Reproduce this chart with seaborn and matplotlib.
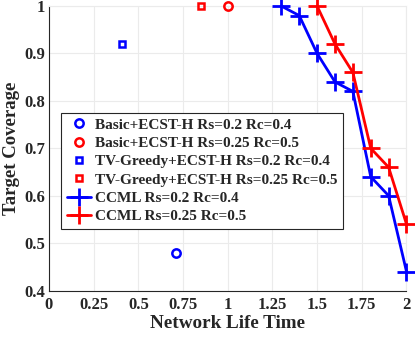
import matplotlib
matplotlib.use("Agg")
import matplotlib.pyplot as plt
import seaborn as sns

sns.set_theme(style="white")
plt.rcParams['font.family'] = ['Liberation Serif', 'DejaVu Serif']
plt.rcParams['font.weight'] = 'bold'

basic_x_02 = [0.71]; basic_y_02 = [0.48]
basic_x_025 = [1.0]; basic_y_025 = [1.0]
tv_x_02 = [0.41]; tv_y_02 = [0.92]
tv_x_025 = [0.85]; tv_y_025 = [1.0]
ccml_x_02 = [1.3, 1.4, 1.5, 1.6, 1.7, 1.8, 1.9, 2.0]
ccml_y_02 = [1.0, 0.98, 0.90, 0.84, 0.82, 0.64, 0.60, 0.44]
ccml_x_025 = [1.5, 1.6, 1.7, 1.8, 1.9, 2.0]
ccml_y_025 = [1.0, 0.92, 0.86, 0.70, 0.66, 0.54]
labels = ["Basic+ECST-H Rs=0.2 Rc=0.4", "Basic+ECST-H Rs=0.25 Rc=0.5",
          "TV-Greedy+ECST-H Rs=0.2 Rc=0.4", "TV-Greedy+ECST-H Rs=0.25 Rc=0.5",
          "CCML Rs=0.2 Rc=0.4", "CCML Rs=0.25 Rc=0.5"]
xticks = [0, 0.25, 0.5, 0.75, 1, 1.25, 1.5, 1.75, 2]
xticklabels = ["0", "0.25", "0.5", "0.75", "1", "1.25", "1.5", "1.75", "2"]
yticks = [0.4, 0.5, 0.6, 0.7, 0.8, 0.9, 1.0]
yticklabels = ["0.4", "0.5", "0.6", "0.7", "0.8", "0.9", "1"]

BLUE = "#0000ff"
RED = "#ff0000"

fig = plt.figure(figsize=(4.15, 3.38), dpi=100)
ax = fig.add_axes([0.118, 0.1405, 0.8615, 0.8415])

common = dict(ax=ax, clip_on=False, zorder=3)
sns.lineplot(x=basic_x_02, y=basic_y_02, marker='o', linestyle='', mfc='none',
             mec=BLUE, ms=6, mew=1.8, label=labels[0], **common)
sns.lineplot(x=basic_x_025, y=basic_y_025, marker='o', linestyle='', mfc='none',
             mec=RED, ms=6, mew=1.8, label=labels[1], **common)
sns.lineplot(x=tv_x_02, y=tv_y_02, marker='s', linestyle='', mfc='none',
             mec=BLUE, ms=5, mew=1.8, label=labels[2], **common)
sns.lineplot(x=tv_x_025, y=tv_y_025, marker='s', linestyle='', mfc='none',
             mec=RED, ms=5, mew=1.8, label=labels[3], **common)
sns.lineplot(x=ccml_x_02, y=ccml_y_02, marker='+', color=BLUE, mec=BLUE, lw=2,
             ms=13, mew=2, label=labels[4], sort=False, **common)
sns.lineplot(x=ccml_x_025, y=ccml_y_025, marker='+', color=RED, mec=RED, lw=2,
             ms=13, mew=2, label=labels[5], sort=False, **common)

ax.set_xlim(0, 2)
ax.set_ylim(0.4, 1.0)
ax.set_xticks(xticks)
ax.set_xticklabels(xticklabels)
ax.set_yticks(yticks)
ax.set_yticklabels(yticklabels)
ax.grid(True, color="#ebebeb", lw=0.8)
ax.set_axisbelow(True)
for s in ['top', 'right']:
    ax.spines[s].set_color("#ebebeb")
    ax.spines[s].set_linewidth(0.8)
for s in ['left', 'bottom']:
    ax.spines[s].set_color("#262626")
    ax.spines[s].set_linewidth(0.8)
ax.tick_params(axis='both', direction='in', length=4, width=0.8, color="#262626",
               labelsize=12, labelcolor="#262626")
ax.tick_params(axis='y', pad=3)
ax.tick_params(axis='x', pad=5)
for t in ax.get_xticklabels() + ax.get_yticklabels():
    t.set_fontweight('bold')
ax.set_xlabel("Network Life Time", fontsize=13.8, fontweight='bold', color="#262626", labelpad=1)
ax.set_ylabel("Target Coverage", fontsize=13.5, fontweight='bold', color="#262626", labelpad=3)

leg = ax.legend(loc='upper left', bbox_to_anchor=(0.035, 0.625),
                prop={'weight': 'bold', 'size': 11}, frameon=True, fancybox=False,
                handlelength=1.6, handletextpad=0.25, labelspacing=0.3,
                borderpad=0.35, borderaxespad=0)
leg.get_frame().set_edgecolor("#262626")
leg.get_frame().set_linewidth(0.8)
leg.get_frame().set_alpha(1)

fig.savefig("out.png", dpi=100)
